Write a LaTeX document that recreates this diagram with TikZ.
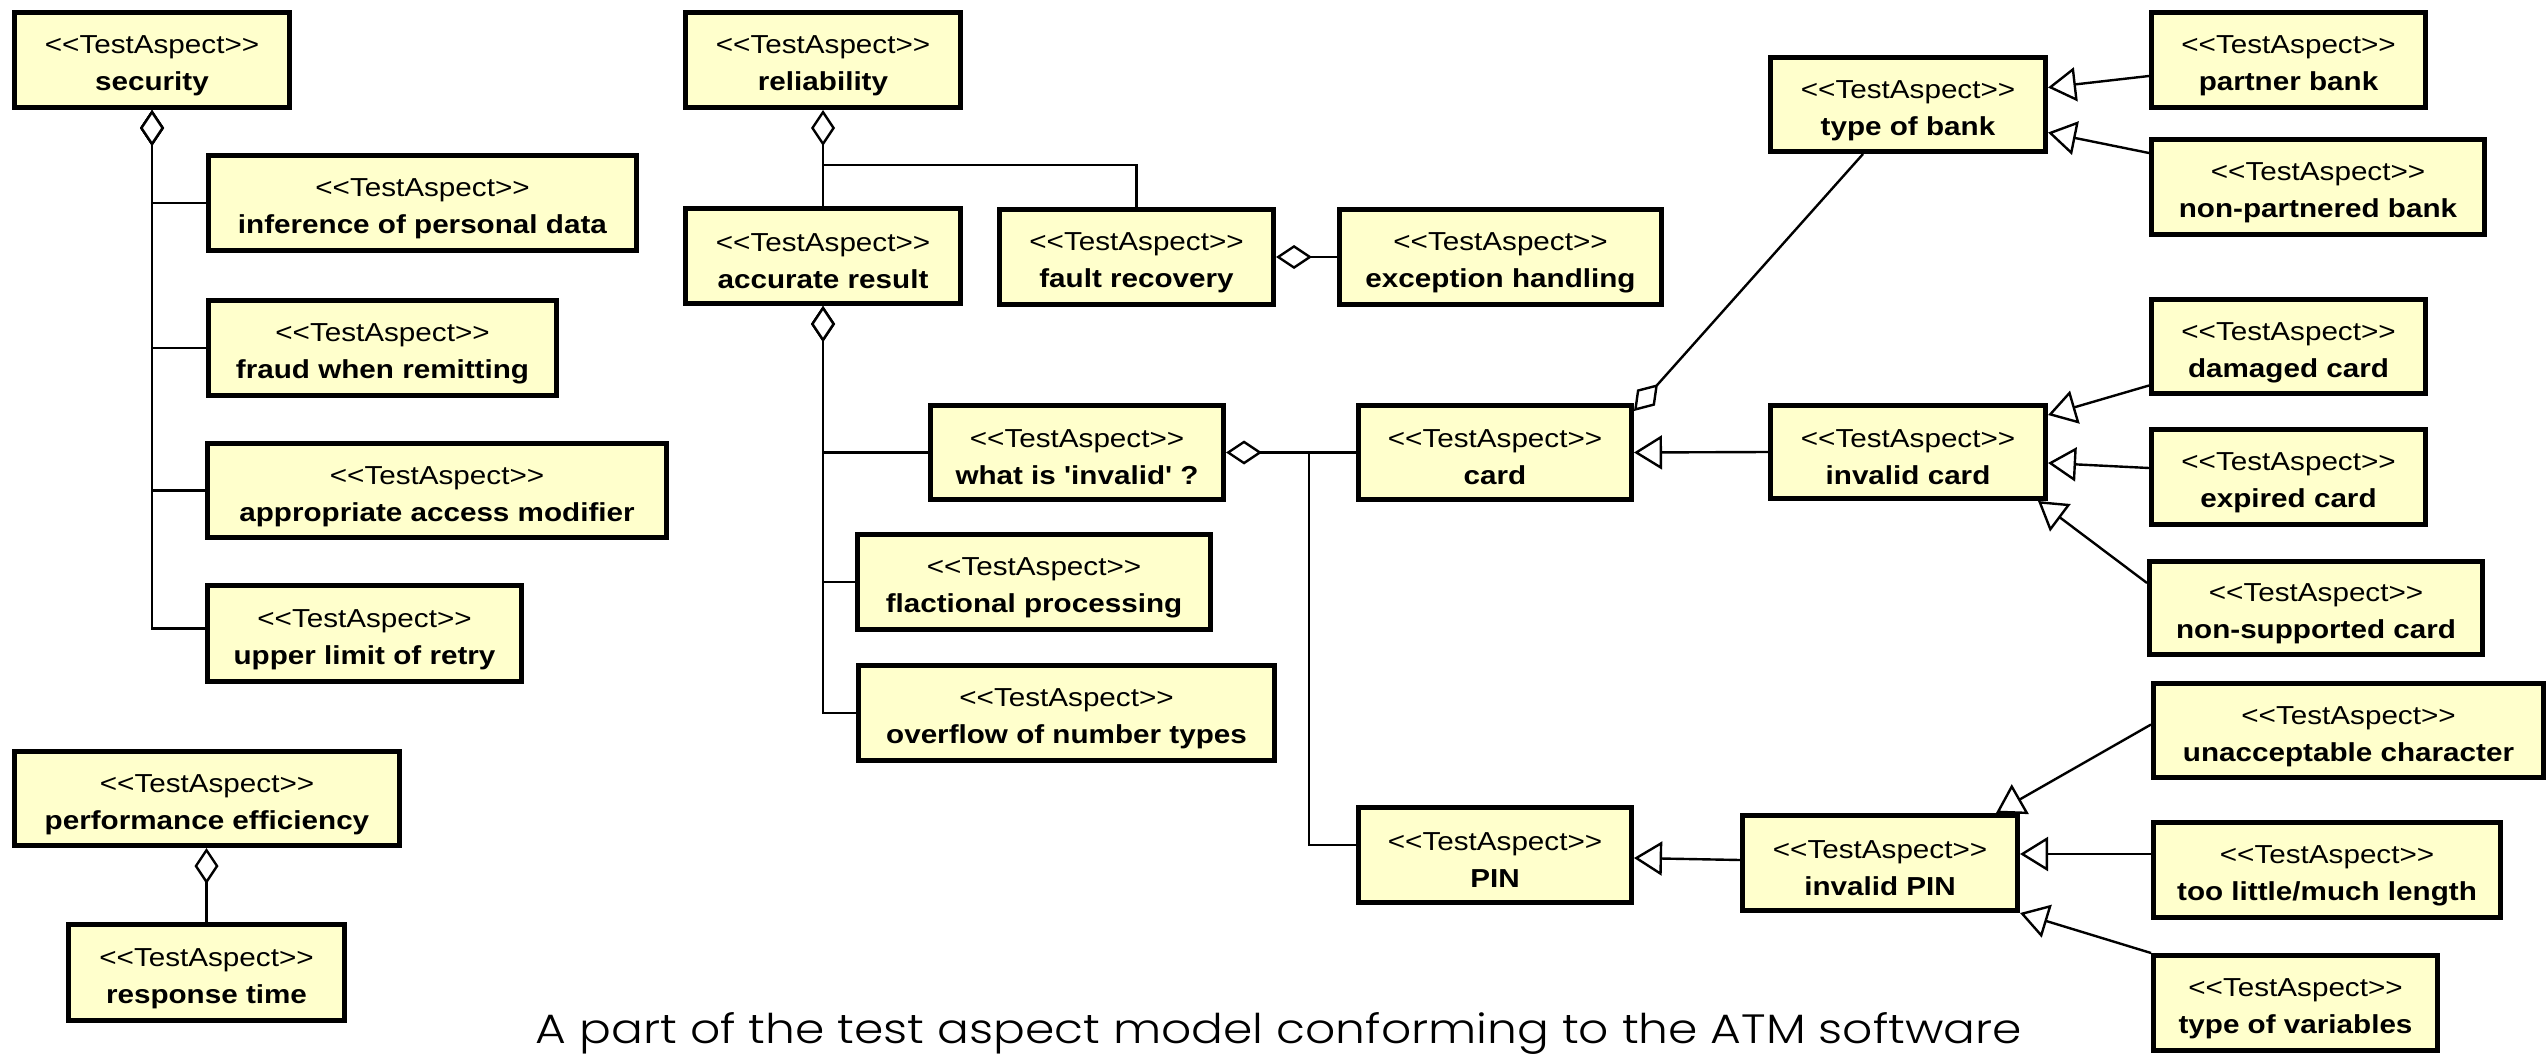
\documentclass[tikz,border=0pt]{standalone}
\usepackage{fontspec}
\usepackage{graphicx}
\newfontfamily\boxfont{Liberation Sans}[FakeStretch=1.14]
\newfontfamily\capfont{Poppins Light}
\usetikzlibrary{arrows.meta}
\definecolor{aspectfill}{RGB}{255,255,204}
% two-line label of a test aspect: stereotype over bold name
\newcommand{\aspect}[1]{\rule{0pt}{30pt}<<TestAspect>>\\\textbf{#1}\rule[-3pt]{0pt}{3pt}}
\tikzset{
  aspect/.style={draw=black, line width=5pt, fill=aspectfill, inner sep=0pt,
    align=center, font=\boxfont\fontsize{26}{37}\selectfont},
  link/.style={line width=2.4pt, black},
  agg/.style={link, -{Kite[fill=white, length=36pt, width=24pt, inset=18pt]}},
  gen/.style={link, -{Triangle[fill=white, length=28pt, width=34pt]}},
}
\begin{document}
\begin{tikzpicture}[x=1pt, y=-1pt]
\useasboundingbox (0,0) rectangle (2547,1054);

% security
\node[aspect, minimum width=275pt, minimum height=95pt] (security) at (152,60) {\aspect{security}};
\node[aspect, minimum width=428pt, minimum height=95pt] (inference) at (422.5,203) {\aspect{inference of personal data}};
\node[aspect, minimum width=348pt, minimum height=95pt] (fraud) at (382.5,348) {\aspect{fraud when remitting}};
\node[aspect, minimum width=459pt, minimum height=94pt] (access) at (437,490.5) {\aspect{appropriate access modifier}};
\node[aspect, minimum width=314pt, minimum height=96pt] (retry) at (364.5,633.5) {\aspect{upper limit of retry}};

% performance efficiency
\node[aspect, minimum width=385pt, minimum height=94pt] (perf) at (207,798.5) {\aspect{performance efficiency}};
\node[aspect, minimum width=276pt, minimum height=96pt] (response) at (206.5,972.5) {\aspect{response time}};

% reliability
\node[aspect, minimum width=275pt, minimum height=95pt] (reliability) at (823,60) {\aspect{reliability}};
\node[aspect, minimum width=275pt, minimum height=95pt] (accurate) at (823,256) {\aspect{accurate result}};
\node[aspect, minimum width=274pt, minimum height=95pt] (fault) at (1136.5,257) {\aspect{fault recovery}};
\node[aspect, minimum width=322pt, minimum height=95pt] (exception) at (1500.5,257) {\aspect{exception handling}};
\node[aspect, minimum width=293pt, minimum height=94pt] (invalidq) at (1077,452.5) {\aspect{what is 'invalid' ?}};
\node[aspect, minimum width=353pt, minimum height=95pt] (fraction) at (1034,582) {\aspect{flactional processing}};
\node[aspect, minimum width=416pt, minimum height=95pt] (overflow) at (1066.5,713) {\aspect{overflow of number types}};

% card and PIN
\node[aspect, minimum width=273pt, minimum height=94pt] (card) at (1495,452.5) {\aspect{card}};
\node[aspect, minimum width=273pt, minimum height=95pt] (pin) at (1495,855) {\aspect{PIN}};
\node[aspect, minimum width=275pt, minimum height=94pt] (typebank) at (1908,104.5) {\aspect{type of bank}};
\node[aspect, minimum width=274pt, minimum height=95pt] (partner) at (2288.5,60) {\aspect{partner bank}};
\node[aspect, minimum width=333pt, minimum height=95pt] (nonpartner) at (2318,187) {\aspect{non-partnered bank}};
\node[aspect, minimum width=274pt, minimum height=94pt] (damaged) at (2288.5,346.5) {\aspect{damaged card}};
\node[aspect, minimum width=275pt, minimum height=93pt] (invalidcard) at (1908,452) {\aspect{invalid card}};
\node[aspect, minimum width=274pt, minimum height=95pt] (expired) at (2288.5,477) {\aspect{expired card}};
\node[aspect, minimum width=333pt, minimum height=93pt] (nonsup) at (2316,608) {\aspect{non-supported card}};
\node[aspect, minimum width=275pt, minimum height=95pt] (invalidpin) at (1880,863) {\aspect{invalid PIN}};
\node[aspect, minimum width=390pt, minimum height=94pt] (unacc) at (2348.5,730.5) {\aspect{unacceptable character}};
\node[aspect, minimum width=347pt, minimum height=95pt] (length) at (2327,870) {\aspect{too little/much length}};
\node[aspect, minimum width=284pt, minimum height=95pt] (vartype) at (2295.5,1003) {\aspect{type of variables}};

% aggregations
\draw[agg] (inference.west) -| (security.south);
\draw[agg] (fraud.west) -| (security.south);
\draw[agg] (access.west) -| (security.south);
\draw[agg] ([yshift=5pt]retry.west) -| (security.south);
\draw[agg] (response.north) -- (response.north |- perf.south);

\coordinate (relj) at (823,165);
\draw[agg] (accurate.north) -- (reliability.south);
\draw[link] (fault.north) |- (relj);
\draw[agg] (exception.west) -- (fault.east);

\draw[agg] (invalidq.west) -| (accurate.south);
\draw[agg] (fraction.west) -| (accurate.south);
\draw[agg] (overflow.west) -| (accurate.south);

\coordinate (pinj) at (1309,452.5);
\draw[agg] (card.west) -- (invalidq.east);
\draw[link] (pinj) |- ([yshift=10pt]pin.west);
\draw[agg] ([xshift=-45pt]typebank.south) -- ([yshift=-8pt]card.north east);

% generalizations
\draw[gen] ([yshift=-16pt]partner.west) -- ([yshift=17pt]typebank.east);
\draw[gen] ([yshift=34pt]nonpartner.west) -- ([yshift=-28pt]typebank.east);
\draw[gen] ([yshift=-39pt]damaged.west) -- ([yshift=37pt]invalidcard.east);
\draw[gen] ([yshift=9pt]expired.west) -- ([yshift=-11pt]invalidcard.east);
\draw[gen] ([yshift=25pt]nonsup.west) -- ([xshift=-10pt]invalidcard.south east);
\draw[gen] (invalidcard.west) -- (card.east);
\draw[gen] ([yshift=3pt]invalidpin.west) -- ([yshift=-3pt]pin.east);
\draw[gen] ([yshift=6pt]unacc.west) -- ([xshift=-24pt]invalidpin.north east);
\draw[gen] ([yshift=16pt]length.west) -- ([yshift=9pt]invalidpin.east);
\draw[gen] (vartype.north west) -- (invalidpin.south east);

% caption
\node[anchor=base, inner sep=0pt] (caption) at (1279,1043)
  {\resizebox{1486pt}{31pt}{\capfont A part of the test aspect model conforming to the ATM software}};
\end{tikzpicture}
\end{document}
